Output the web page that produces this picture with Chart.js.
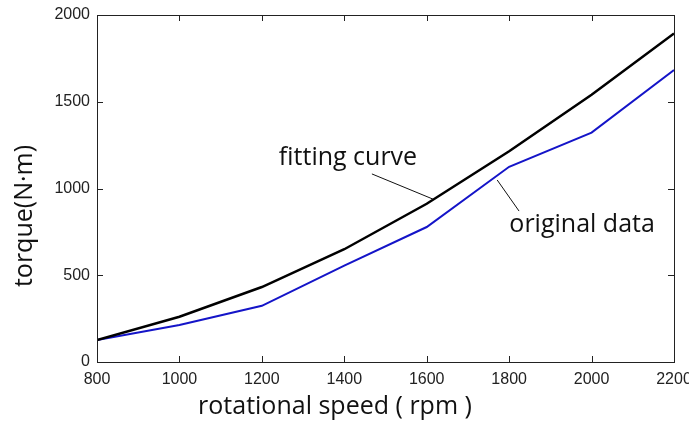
<!DOCTYPE html>
<html>
<head>
<meta charset="utf-8">
<script src="https://cdn.jsdelivr.net/npm/chart.js@4"></script>
<style>
  html, body { margin: 0; padding: 0; background: #fff; }
  #wrap { width: 689px; height: 423px; }
</style>
</head>
<body>
<div id="wrap"><canvas id="c" width="689" height="423"></canvas></div>
<script>
const rpm = [800, 1000, 1200, 1400, 1600, 1800, 2000, 2200];
const fittingCurve = [127, 261, 432, 650, 912, 1215, 1540, 1893];
const originalData = [127, 213, 324, 555, 778, 1125, 1322, 1683];
const xTicks = [800, 1000, 1200, 1400, 1600, 1800, 2000, 2200];
const yTicks = [0, 500, 1000, 1500, 2000];
const xTitle = 'rotational speed ( rpm )';
const yTitle = 'torque(N·m)';

const toPoints = (ys) => rpm.map((x, i) => ({ x, y: ys[i] }));

// text labels with leader lines, positions in data units
const notes = [
  { text: 'fitting curve', at: [1409, 1176], line: [[1467, 1084], [1615, 939]] },
  { text: 'original data', at: [1977, 790], line: [[1771, 1049], [1824, 870]] }
];

const labelFont = '25px "Open Sans", "Noto Sans", sans-serif';

const framePlugin = {
  id: 'frame',
  afterDatasetsDraw(chart) {
    const { ctx, chartArea: a, scales: { x, y } } = chart;
    ctx.save();
    ctx.strokeStyle = '#222';
    ctx.lineWidth = 1;
    ctx.strokeRect(a.left + 0.5, a.top + 0.5, a.right - a.left, a.bottom - a.top);
    // inward ticks on all four sides
    ctx.beginPath();
    xTicks.forEach(v => {
      const px = Math.round(x.getPixelForValue(v)) + 0.5;
      ctx.moveTo(px, a.bottom); ctx.lineTo(px, a.bottom - 6);
      ctx.moveTo(px, a.top); ctx.lineTo(px, a.top + 6);
    });
    yTicks.forEach(v => {
      const py = Math.round(y.getPixelForValue(v)) + 0.5;
      ctx.moveTo(a.left, py); ctx.lineTo(a.left + 6, py);
      ctx.moveTo(a.right, py); ctx.lineTo(a.right - 6, py);
    });
    ctx.stroke();

    ctx.font = labelFont;
    ctx.fillStyle = '#111';
    ctx.textAlign = 'center';
    ctx.textBaseline = 'middle';
    notes.forEach(n => {
      ctx.fillText(n.text, x.getPixelForValue(n.at[0]), y.getPixelForValue(n.at[1]));
      ctx.beginPath();
      ctx.moveTo(x.getPixelForValue(n.line[0][0]), y.getPixelForValue(n.line[0][1]));
      ctx.lineTo(x.getPixelForValue(n.line[1][0]), y.getPixelForValue(n.line[1][1]));
      ctx.lineWidth = 1;
      ctx.strokeStyle = '#111';
      ctx.stroke();
    });

    // axis titles
    ctx.fillText(xTitle, 335, 407);
    ctx.translate(25, 216);
    ctx.rotate(-Math.PI / 2);
    ctx.fillText(yTitle, 0, 0);
    ctx.restore();
  }
};

const tickFont = { family: '"Liberation Sans", Arial, sans-serif', size: 16 };

new Chart(document.getElementById('c'), {
  type: 'line',
  data: {
    datasets: [
      {
        label: 'fitting curve',
        data: toPoints(fittingCurve),
        borderColor: '#000',
        borderWidth: 2.5,
        pointRadius: 0,
        tension: 0
      },
      {
        label: 'original data',
        data: toPoints(originalData),
        borderColor: '#1414c8',
        borderWidth: 2,
        pointRadius: 0,
        tension: 0
      }
    ]
  },
  options: {
    responsive: false,
    animation: false,
    layout: { padding: { top: 15, right: 15, left: 0, bottom: 0 } },
    plugins: { legend: { display: false }, tooltip: { enabled: false } },
    scales: {
      x: {
        type: 'linear',
        min: 800, max: 2200,
        afterBuildTicks: s => { s.ticks = xTicks.map(v => ({ value: v })); },
        afterFit: s => { s.height = 61; s.paddingLeft = 0; s.paddingRight = 0; },
        grid: { display: false, drawTicks: false },
        border: { display: false },
        ticks: {
          autoSkip: false, maxRotation: 0, padding: 8,
          color: '#222', font: tickFont,
          callback: v => String(v)
        }
      },
      y: {
        min: 0, max: 2000,
        afterBuildTicks: s => { s.ticks = yTicks.map(v => ({ value: v })); },
        afterFit: s => { s.width = 97; s.paddingTop = 0; s.paddingBottom = 0; },
        grid: { display: false, drawTicks: false },
        border: { display: false },
        ticks: {
          padding: 7,
          color: '#222', font: tickFont,
          callback: v => String(v)
        }
      }
    }
  },
  plugins: [framePlugin]
});
</script>
</body>
</html>
